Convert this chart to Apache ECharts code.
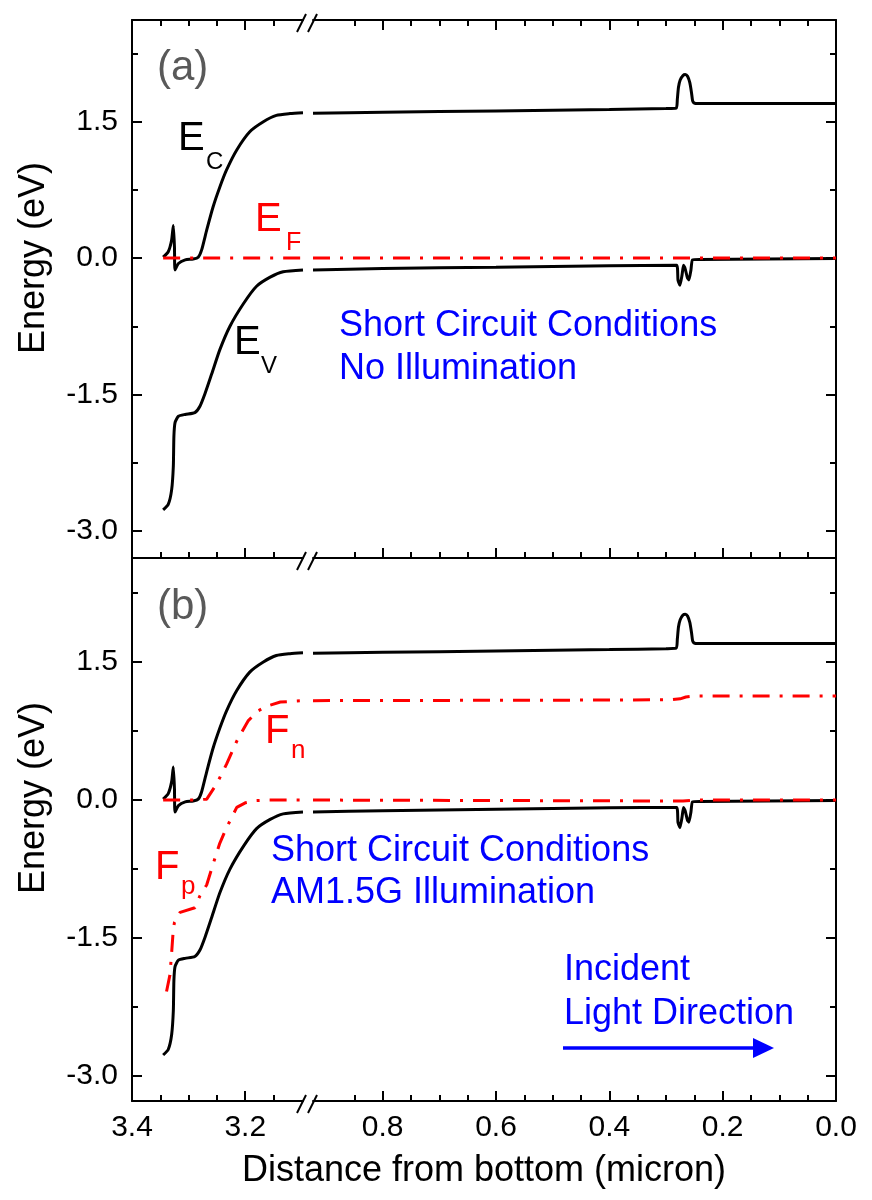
<!DOCTYPE html>
<html><head><meta charset="utf-8">
<script src="https://cdn.jsdelivr.net/npm/echarts@6/dist/echarts.min.js"></script>
<style>html,body{margin:0;padding:0;background:#fff}#c{width:872px;height:1200px}</style>
</head><body><div id="c"></div>
<script>
// ---------------- data (x in micron, y in eV) ----------------
// left segment of the broken x axis: 3.4 .. ~3.1
const ecLeft = [[3.345,0.01],[3.336,0.07],[3.330,0.2],[3.327,0.36],[3.325,0.12],[3.324,-0.13],[3.318,-0.06],[3.306,-0.02],[3.292,-0.01],[3.283,0.01],[3.277,0.09],[3.268,0.31],[3.257,0.56],[3.245,0.78],[3.233,0.97],[3.215,1.19],[3.192,1.39],[3.168,1.50],[3.145,1.57],[3.121,1.59],[3.098,1.60]];
const evLeft = [[3.345,-2.77],[3.336,-2.71],[3.330,-2.55],[3.327,-2.29],[3.326,-1.96],[3.324,-1.81],[3.318,-1.74],[3.306,-1.72],[3.289,-1.70],[3.280,-1.63],[3.271,-1.49],[3.259,-1.27],[3.245,-1.01],[3.227,-0.75],[3.203,-0.50],[3.180,-0.31],[3.156,-0.21],[3.133,-0.15],[3.098,-0.13]];
const efLeft = [[3.345,0],[3.098,0]];
const fnLeft = [[3.345,0],[3.292,0],[3.268,0.01],[3.251,0.17],[3.233,0.39],[3.215,0.64],[3.195,0.86],[3.177,0.97],[3.162,1.02],[3.138,1.065],[3.098,1.08]];
const fpLeft = [[3.339,-2.08],[3.333,-1.90],[3.330,-1.66],[3.327,-1.40],[3.325,-1.33],[3.315,-1.22],[3.289,-1.17],[3.280,-1.04],[3.268,-0.92],[3.257,-0.70],[3.245,-0.47],[3.233,-0.30],[3.215,-0.08],[3.200,-0.03],[3.180,-0.005],[3.160,0],[3.098,0]];
// right segment of the broken x axis: ~0.92 .. 0.0
const ecRight = [[0.923,1.595],[0.8,1.605],[0.6,1.62],[0.4,1.635],[0.3,1.645],[0.282,1.65],[0.280,1.75],[0.278,1.88],[0.275,1.96],[0.270,2.01],[0.266,2.02],[0.262,2.0],[0.258,1.93],[0.255,1.82],[0.253,1.73],[0.250,1.705],[0.244,1.70],[0.2,1.70],[0.0,1.70]];
const evRight = [[0.923,-0.13],[0.8,-0.115],[0.6,-0.10],[0.4,-0.085],[0.2812,-0.08],[0.2789,-0.24],[0.2754,-0.30],[0.2718,-0.19],[0.2692,-0.08],[0.2665,-0.11],[0.2621,-0.22],[0.2595,-0.24],[0.2560,-0.13],[0.2533,-0.02],[0.24,-0.015],[0.0,-0.005]];
const efRight = [[0.923,0],[0.0,0]];
const fnRight = [[0.923,1.08],[0.5,1.085],[0.29,1.09],[0.275,1.10],[0.265,1.12],[0.25,1.13],[0.0,1.13]];
const fpRight = [[0.923,0],[0.3,-0.01],[0.27,-0.01],[0.25,0],[0.0,0]];

// ticks
const yMajorTicks = [-3, -1.5, 0, 1.5];
const yMinorTicks = [-2.25, -0.75, 0.75, 2.25];
const xLeftMajorTicks = [3.4, 3.2];
const xLeftMinorTicks = [3.35, 3.3, 3.25, 3.15];
const xRightMajorTicks = [0.8, 0.6, 0.4, 0.2, 0.0];
const xRightMinorTicks = [0.85, 0.75, 0.7, 0.65, 0.55, 0.5, 0.45, 0.35, 0.3, 0.25, 0.15, 0.1, 0.05];

// axis ranges
const yRangeA = [-3.30, 2.62];
const yRangeB = [-3.27, 2.63];
const xLeftMin = 3.098, xLeftMax = 3.4;
const xRightMin = 0.0, xRightMax = 0.923;

// ---------------- chart ----------------
const FONT = '"Liberation Sans", Arial, sans-serif';
const BLUE = '#0000ff', RED = '#ff0000';

function xAx(gridIndex, position, min, max, ticks, len, showLine, labels) {
  return {
    type: 'value', gridIndex, position, min, max, inverse: true,
    axisLine: {show: showLine, onZero: false, lineStyle: {color: '#000', width: 2}},
    axisTick: {show: true, inside: true, length: len, customValues: ticks, lineStyle: {color: '#000', width: 2}},
    axisLabel: labels ? {show: true, customValues: labels, formatter: v => v.toFixed(1), fontSize: 30, fontFamily: FONT, color: '#000', margin: 12} : {show: false},
    splitLine: {show: false}, minorTick: {show: false}
  };
}
function yAx(gridIndex, position, range, ticks, len, showLine, labels) {
  return {
    type: 'value', gridIndex, position, min: range[0], max: range[1],
    axisLine: {show: showLine, onZero: false, lineStyle: {color: '#000', width: 2}},
    axisTick: {show: true, inside: true, length: len, customValues: ticks, lineStyle: {color: '#000', width: 2}},
    axisLabel: labels ? {show: true, customValues: labels, formatter: v => v.toFixed(1), fontSize: 30, fontFamily: FONT, color: '#000', margin: 14} : {show: false},
    splitLine: {show: false}, minorTick: {show: false}
  };
}

const grids = [
  {left: 132, top: 20, width: 171, height: 538},
  {left: 313, top: 20, width: 523, height: 538},
  {left: 132, top: 558, width: 171, height: 543},
  {left: 313, top: 558, width: 523, height: 543}
].map(g => Object.assign({outerBoundsMode: 'none', containLabel: false}, g));

const xAxes = [
  xAx(0, 'bottom', xLeftMin, xLeftMax, xLeftMajorTicks, 10, true, null),   // 0
  xAx(0, 'bottom', xLeftMin, xLeftMax, xLeftMinorTicks, 6, false, null),   // 1
  xAx(0, 'top', xLeftMin, xLeftMax, xLeftMajorTicks, 10, true, null),      // 2
  xAx(0, 'top', xLeftMin, xLeftMax, xLeftMinorTicks, 6, false, null),      // 3
  xAx(1, 'bottom', xRightMin, xRightMax, xRightMajorTicks, 10, true, null),// 4
  xAx(1, 'bottom', xRightMin, xRightMax, xRightMinorTicks, 6, false, null),// 5
  xAx(1, 'top', xRightMin, xRightMax, xRightMajorTicks, 10, true, null),   // 6
  xAx(1, 'top', xRightMin, xRightMax, xRightMinorTicks, 6, false, null),   // 7
  xAx(2, 'bottom', xLeftMin, xLeftMax, xLeftMajorTicks, 10, true, xLeftMajorTicks),   // 8
  xAx(2, 'bottom', xLeftMin, xLeftMax, xLeftMinorTicks, 6, false, null),              // 9
  xAx(3, 'bottom', xRightMin, xRightMax, xRightMajorTicks, 10, true, xRightMajorTicks),// 10
  xAx(3, 'bottom', xRightMin, xRightMax, xRightMinorTicks, 6, false, null)             // 11
];
const yAxes = [
  yAx(0, 'left', yRangeA, yMajorTicks, 10, true, yMajorTicks),  // 0
  yAx(0, 'left', yRangeA, yMinorTicks, 6, false, null),         // 1
  yAx(1, 'right', yRangeA, yMajorTicks, 10, true, null),        // 2
  yAx(1, 'right', yRangeA, yMinorTicks, 6, false, null),        // 3
  yAx(2, 'left', yRangeB, yMajorTicks, 10, true, yMajorTicks),  // 4
  yAx(2, 'left', yRangeB, yMinorTicks, 6, false, null),         // 5
  yAx(3, 'right', yRangeB, yMajorTicks, 10, true, null),        // 6
  yAx(3, 'right', yRangeB, yMinorTicks, 6, false, null)         // 7
];

const DASHDOT = [17, 10, 3, 10];
function ln(name, data, xi, yi, color, dashed, smooth) {
  return {
    name, type: 'line', xAxisIndex: xi, yAxisIndex: yi, data,
    showSymbol: false, symbol: 'none', smooth: smooth || false, silent: true, animation: false,
    lineStyle: {color, width: 3, type: dashed ? DASHDOT : 'solid'}
  };
}
const series = [
  ln('Ec', ecLeft, 0, 0, '#000', false, 0.2),
  ln('Ev', evLeft, 0, 0, '#000', false, 0.2),
  ln('EF', efLeft, 0, 0, RED, true),
  ln('Ec', ecRight, 4, 2, '#000', false, 0.2),
  ln('Ev', evRight, 4, 2, '#000', false, 0.15),
  ln('EF', efRight, 4, 2, RED, true),
  ln('Ec', ecLeft, 8, 4, '#000', false, 0.2),
  ln('Ev', evLeft, 8, 4, '#000', false, 0.2),
  ln('Fn', fnLeft, 8, 4, RED, true),
  ln('Fp', fpLeft, 8, 4, RED, true),
  ln('Ec', ecRight, 10, 6, '#000', false, 0.2),
  ln('Ev', evRight, 10, 6, '#000', false, 0.15),
  ln('Fn', fnRight, 10, 6, RED, true),
  ln('Fp', fpRight, 10, 6, RED, true)
];

function txt(text, x, y, size, color, extra) {
  return Object.assign({
    type: 'text', x, y, silent: true, z: 100,
    style: {text, fill: color, fontSize: size, fontFamily: FONT, align: 'left', verticalAlign: 'middle', textAlign: 'left', textVerticalAlign: 'middle'}
  }, extra || {});
}
const graphics = [
  txt('(a)', 157, 68, 42, '#595959'),
  txt('E', 178, 139, 40, '#000'),
  txt('C', 206, 162, 24, '#000'),
  txt('E', 255, 220, 40, RED),
  txt('F', 286, 243, 25, RED),
  txt('E', 234, 343, 40, '#000'),
  txt('V', 261, 366, 24, '#000'),
  txt('Short Circuit Conditions', 339, 326, 36, BLUE),
  txt('No Illumination', 339, 369, 36, BLUE),
  txt('(b)', 157, 607, 42, '#595959'),
  txt('F', 265, 732, 40, RED),
  txt('n', 291, 751, 26, RED),
  txt('F', 155, 868, 40, RED),
  txt('p', 181, 887, 26, RED),
  txt('Short Circuit Conditions', 271, 851, 36, BLUE),
  txt('AM1.5G Illumination', 271, 893, 36, BLUE),
  txt('Incident', 564, 970, 36, BLUE),
  txt('Light Direction', 564, 1014, 36, BLUE),
  {type: 'line', silent: true, z: 100, shape: {x1: 563, y1: 1048, x2: 757, y2: 1048}, style: {stroke: BLUE, lineWidth: 3.5}},
  {type: 'polygon', silent: true, z: 100, shape: {points: [[753, 1038], [774, 1048], [753, 1058]]}, style: {fill: BLUE}},
  {type: 'text', silent: true, z: 100, x: 34, y: 258, rotation: Math.PI / 2,
   style: {text: 'Energy (eV)', fill: '#000', fontSize: 36, fontFamily: FONT, align: 'center', verticalAlign: 'middle', textAlign: 'center', textVerticalAlign: 'middle'}},
  {type: 'text', silent: true, z: 100, x: 34, y: 798, rotation: Math.PI / 2,
   style: {text: 'Energy (eV)', fill: '#000', fontSize: 36, fontFamily: FONT, align: 'center', verticalAlign: 'middle', textAlign: 'center', textVerticalAlign: 'middle'}},
  {type: 'text', silent: true, z: 100, x: 484, y: 1171,
   style: {text: 'Distance from bottom (micron)', fill: '#000', fontSize: 36, fontFamily: FONT, align: 'center', verticalAlign: 'middle', textAlign: 'center', textVerticalAlign: 'middle'}}
];
// axis-break marks "//"
[20, 558, 1101].forEach(y => {
  graphics.push({type: 'line', silent: true, z: 100, shape: {x1: 297, y1: y + 12, x2: 306, y2: y - 6}, style: {stroke: '#000', lineWidth: 2}});
  graphics.push({type: 'line', silent: true, z: 100, shape: {x1: 308, y1: y + 12, x2: 317, y2: y - 6}, style: {stroke: '#000', lineWidth: 2}});
});

const chart = echarts.init(document.getElementById('c'), null, {renderer: 'canvas'});
chart.setOption({
  animation: false,
  backgroundColor: '#fff',
  grid: grids,
  xAxis: xAxes,
  yAxis: yAxes,
  series,
  graphic: graphics
});
</script></body></html>
